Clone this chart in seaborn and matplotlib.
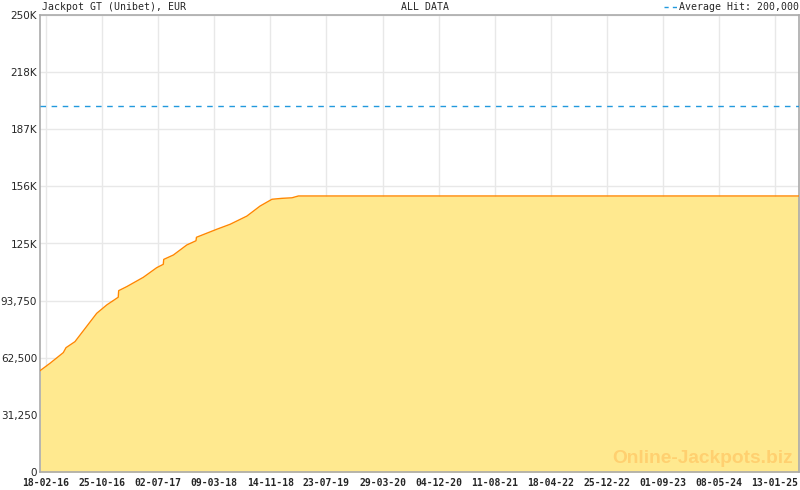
import matplotlib
matplotlib.use("Agg")
import matplotlib.pyplot as plt
import matplotlib.dates as mdates
from matplotlib.ticker import FixedLocator, AutoMinorLocator
from matplotlib.lines import Line2D
import seaborn as sns
import pandas as pd

# ---- data ----
dates = ["2016-01-22", "2016-03-07", "2016-05-05", "2016-05-17", "2016-06-26",
         "2016-10-01", "2016-11-15", "2017-01-05", "2017-01-07", "2017-02-12",
         "2017-04-27", "2017-06-26", "2017-07-25", "2017-07-27", "2017-09-08",
         "2017-11-07", "2017-12-18", "2017-12-20", "2018-03-21", "2018-05-19",
         "2018-08-02", "2018-09-30", "2018-11-22", "2019-01-05", "2019-02-19",
         "2019-03-20", "2025-04-30"]
values = [55400, 59500, 65300, 68000, 71300,
          86800, 91400, 95600, 99200, 101400,
          106500, 111800, 113600, 116300, 118700,
          124200, 126500, 128400, 132800, 135500,
          140000, 145500, 149200, 149700, 150000,
          151000, 151000]
average_hit = 200000
tick_dates = ["2016-02-18", "2016-10-25", "2017-07-02", "2018-03-09", "2018-11-14",
              "2019-07-23", "2020-03-29", "2020-12-04", "2021-08-11", "2022-04-18",
              "2022-12-25", "2023-09-01", "2024-05-08", "2025-01-13"]
y_ticks = [0, 31250, 62500, 93750, 125000, 156250, 187500, 218750, 250000]
y_labels = ["0", "31,250", "62,500", "93,750", "125K", "156K", "187K", "218K", "250K"]
title_left = "Jackpot GT (Unibet), EUR"
title_mid = "ALL DATA"
legend_text = "Average Hit: 200,000"
watermark = "Online-Jackpots.biz"

df = pd.DataFrame({"date": pd.to_datetime(dates), "value": values})

sns.set_style("white")
plt.rcParams["font.family"] = ["DejaVu Sans Mono", "DejaVu Sans"]

fig = plt.figure(figsize=(8, 4.9), dpi=100)
ax = fig.add_axes([40 / 800, 18 / 490, 759 / 800, 457 / 490])

ax.fill_between(df["date"], df["value"], 0, color="#FFE98F", linewidth=0, zorder=2)
sns.lineplot(data=df, x="date", y="value", ax=ax, color="#FF8800", linewidth=1.0, zorder=3)
ax.axhline(average_hit, color="#2299DD", linestyle=(0, (4, 4)), linewidth=1, zorder=3)

ax.set_xlim(pd.Timestamp("2016-01-22"), pd.Timestamp("2025-04-30"))
ax.set_ylim(0, 250000)
ax.set_xlabel("")
ax.set_ylabel("")

ax.yaxis.set_major_locator(FixedLocator(y_ticks))
ax.set_yticklabels(y_labels, fontsize=7.5, family=["DejaVu Sans"])
tick_nums = mdates.date2num(pd.to_datetime(tick_dates))
ax.xaxis.set_major_locator(FixedLocator(tick_nums))
ax.xaxis.set_major_formatter(mdates.DateFormatter("%d-%m-%y"))
ax.xaxis.set_minor_locator(AutoMinorLocator(7))
for lab in ax.get_xticklabels():
    lab.set_fontsize(7)
    lab.set_fontweight("bold")

ax.tick_params(axis="x", which="major", direction="in", length=6, color="#aaaaaa", pad=4)
ax.tick_params(axis="x", which="minor", direction="in", length=3, color="#aaaaaa")
ax.tick_params(axis="y", which="both", length=0, pad=2)

ax.grid(True, which="major", color="#e8e8e8", linewidth=1, zorder=0)
ax.set_axisbelow(True)
for s in ax.spines.values():
    s.set_color("#aaaaaa")
    s.set_linewidth(1.2)
    s.set_visible(True)

fs_top = 7.1
fig.text(42 / 800, 1 - 7 / 490, title_left, fontsize=fs_top, va="center", ha="left")
fig.text(425 / 800, 1 - 7 / 490, title_mid, fontsize=fs_top, va="center", ha="center")
fig.text(799 / 800, 1 - 7 / 490, legend_text, fontsize=fs_top, va="center", ha="right")
fig.add_artist(Line2D([664 / 800, 677 / 800], [1 - 7 / 490, 1 - 7 / 490],
                      transform=fig.transFigure, color="#2299DD",
                      linestyle=(0, (3, 3)), linewidth=1))

ax.text(0.8735, 0.03, watermark, transform=ax.transAxes, fontsize=13.8, fontweight="bold",
        family=["Liberation Sans", "DejaVu Sans"], color="#FFD070", ha="center", va="center",
        zorder=4)

fig.savefig("out.png", dpi=100)
